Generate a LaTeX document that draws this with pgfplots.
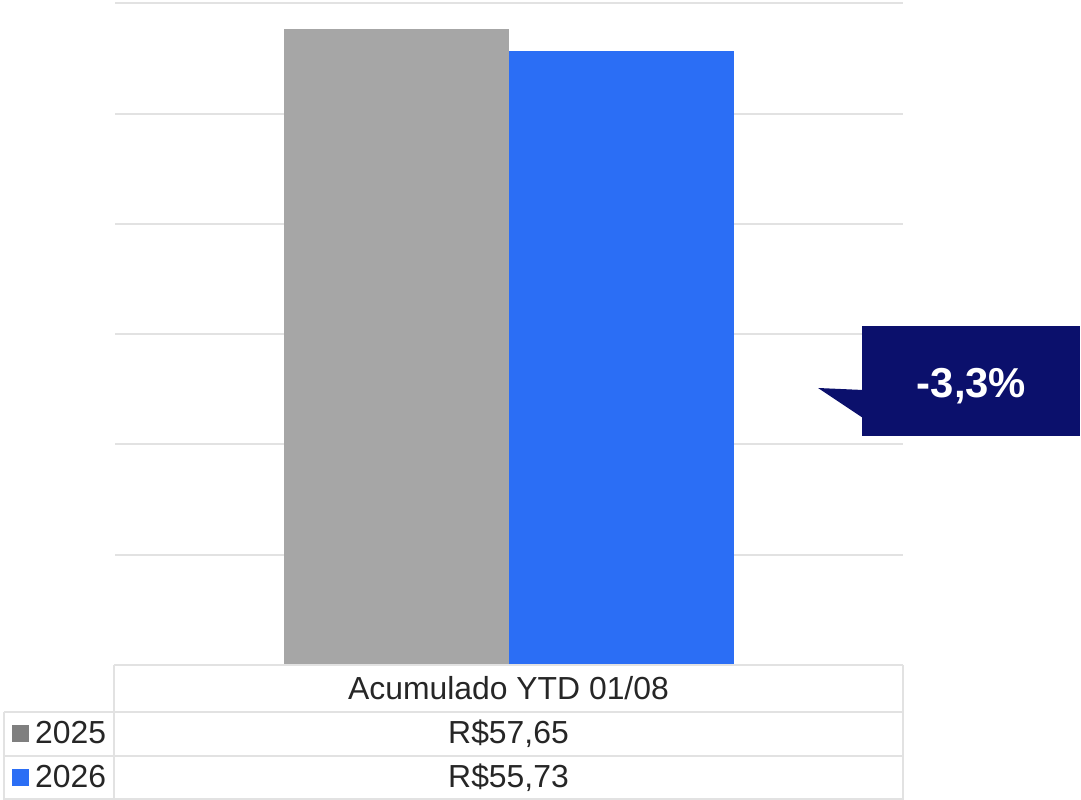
\documentclass[border=0pt]{standalone}
\usepackage{pgfplots}
\pgfplotsset{compat=1.18}
\usepackage{fontspec}
\setmainfont{Liberation Sans}
\definecolor{gbar}{HTML}{A6A6A6}
\definecolor{gleg}{HTML}{7F7F7F}
\definecolor{bbar}{HTML}{2B6EF5}
\definecolor{navy}{HTML}{0B106C}
\definecolor{gridc}{HTML}{E2E2E2}
\definecolor{txt}{HTML}{262626}
\begin{document}
\begin{tikzpicture}[x=1bp,y=1bp]
\path[use as bounding box] (0,0) rectangle (1081,800);
\begin{axis}[
  at={(115bp,135bp)}, anchor=south west,
  scale only axis, width=788bp, height=661.5bp,
  xmin=-1, xmax=1, ymin=0, ymax=60,
  ytick={0,10,20,30,40,50,60}, yticklabels={}, xtick=\empty,
  ymajorgrids, grid style={draw=gridc, line width=2bp},
  major tick length=0pt,
  axis line style={draw=none},
  clip=false,
]
\addplot[ybar, bar width=225bp, bar shift=-112.5bp, fill=gbar, draw=none] coordinates {(0,57.65)};
\addplot[ybar, bar width=225bp, bar shift=112.5bp, fill=bbar, draw=none] coordinates {(0,55.73)};
\end{axis}
% table
\begin{scope}[draw=gridc, line width=2bp]
\draw (114,135) -- (903,135);
\draw (4,88) -- (903,88);
\draw (4,43.5) -- (903,43.5);
\draw (4,1) -- (903,1);
\draw (114,135) -- (114,0);
\draw (903,135) -- (903,0);
\draw (4,88) -- (4,0);
\end{scope}
\fill[gleg] (12,58) rectangle (29,75);
\fill[bbar] (12,14) rectangle (29,31);
\begin{scope}[every node/.style={font=\fontsize{32}{38}\selectfont, text=txt, inner sep=0pt}]
\node[anchor=base west] at (35,56.5) {2025};
\node[anchor=base west] at (35,12.5) {2026};
\node[anchor=base] at (508.5,100.5) {Acumulado YTD 01/08};
\node[anchor=base] at (508.5,56.5) {R\$57,65};
\node[anchor=base] at (508.5,12.5) {R\$55,73};
\end{scope}
% callout
\fill[navy] (862,474) rectangle (1080,364);
\fill[navy] (818,412) -- (863,410) -- (863,382) -- cycle;
\node[anchor=base, inner sep=0pt, text=white, font=\bfseries\fontsize{42}{48}\selectfont] at (971.5,402) {-3,3\%};
\end{tikzpicture}
\end{document}
